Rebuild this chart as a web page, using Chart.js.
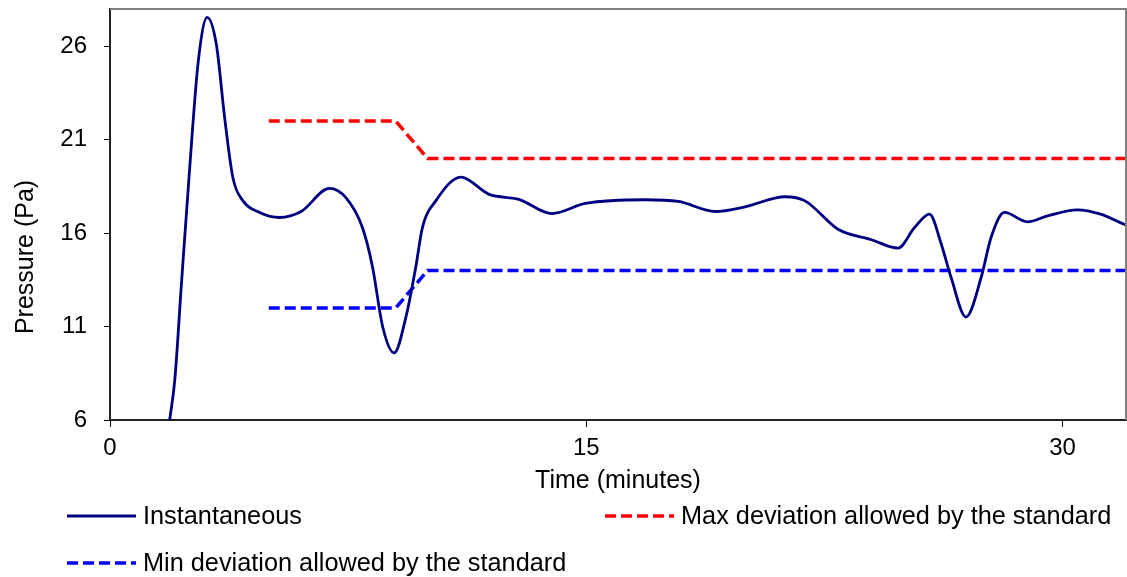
<!DOCTYPE html>
<html>
<head>
<meta charset="utf-8">
<script src="https://cdn.jsdelivr.net/npm/chart.js@4/dist/chart.umd.min.js"></script>
<style>
  html, body { margin: 0; padding: 0; background: #fff; }
  #wrap { width: 1127px; height: 577px; position: relative; }
</style>
</head>
<body>
<div id="wrap"><canvas id="myChart"></canvas></div>
<script>
// time in minutes / pressure in Pa
const instTime = [1.88, 2.04, 2.25, 2.51, 2.78, 3.06, 3.35, 3.61, 3.87, 4.19, 4.71, 5.34, 6.02, 6.91, 7.43, 7.95, 8.27, 8.59, 8.95,
  9.32, 9.63, 9.84, 10.26, 11.05, 11.94, 12.88, 13.92, 14.97, 16.86, 17.9, 19.06, 20.0, 21.26, 21.89, 22.93, 23.98, 24.82,
  25.34, 25.81, 26.18, 26.49, 26.96, 27.44, 27.75, 28.17, 28.9, 29.53, 30.47, 31.2, 31.94, 32]
const instPressure = [6, 8.13, 13.29, 19.5, 25.2, 27.55, 26.1, 22.2, 18.98, 17.73, 17.11, 16.84, 17.16, 18.4, 17.9, 16.3, 14.18, 10.98, 9.59,
  11.51, 14.18, 16.3, 17.73, 19.0, 18.08, 17.81, 17.05, 17.59, 17.79, 17.7, 17.16, 17.41, 17.95, 17.73, 16.21, 15.65, 15.2,
  16.3, 17.02, 15.42, 13.64, 11.51, 13.64, 15.77, 17.11, 16.61, 16.93, 17.25, 17.02, 16.48, 16.45]

const limitTime = [5, 9, 10, 32]
const maxDeviation = [22, 22, 20, 20]
const minDeviation = [12, 12, 14, 14]

const xTicks = [0, 15, 30]
const yTicks = [6, 11, 16, 21, 26]

const labels = ['Instantaneous', 'Max deviation allowed by the standard', 'Min deviation allowed by the standard']
const axisTitles = { x: 'Time (minutes)', y: 'Pressure (Pa)' }

const pts = (xs, ys) => xs.map((x, i) => ({ x: x, y: ys[i] }))
const FONT = '"Liberation Sans", Arial, sans-serif'

// frame, y title and legend drawn by hand
const extras = {
  id: 'extras',
  afterDraw(chart) {
    const { ctx, chartArea: a } = chart
    ctx.save()
    ctx.strokeStyle = '#808080'
    ctx.lineWidth = 2
    ctx.beginPath()
    ctx.moveTo(a.left, a.top)
    ctx.lineTo(a.right, a.top)
    ctx.lineTo(a.right, a.bottom)
    ctx.stroke()

    ctx.fillStyle = '#000'
    ctx.font = '25px ' + FONT
    ctx.textBaseline = 'middle'
    ctx.translate(26, 257)
    ctx.rotate(-Math.PI / 2)
    ctx.textAlign = 'center'
    ctx.fillText(axisTitles.y, 0, 0)
    ctx.restore()

    const spots = [[67, 516], [605, 516], [67, 563]]
    chart.data.datasets.forEach((ds, i) => {
      const [x, y] = spots[i]
      ctx.save()
      ctx.strokeStyle = ds.borderColor
      ctx.lineWidth = ds.borderWidth
      ctx.setLineDash(ds.borderDash || [])
      ctx.beginPath()
      ctx.moveTo(x, y)
      ctx.lineTo(x + 69, y)
      ctx.stroke()
      ctx.fillStyle = '#000'
      ctx.font = '25.3px ' + FONT
      ctx.textBaseline = 'middle'
      ctx.textAlign = 'left'
      ctx.fillText(ds.label, x + 76, y + 1)
      ctx.restore()
    })
  }
}

const ctx = document.getElementById('myChart')
new Chart(ctx, {
  type: 'line',
  data: {
    datasets: [{
      label: labels[0],
      data: pts(instTime, instPressure),
      borderColor: '#000080',
      borderWidth: 2.8,
      cubicInterpolationMode: 'monotone',
      pointRadius: 0
    }, {
      label: labels[1],
      data: pts(limitTime, maxDeviation),
      borderColor: '#ff0000',
      borderWidth: 3.5,
      borderDash: [11, 5],
      pointRadius: 0,
      tension: 0
    }, {
      label: labels[2],
      data: pts(limitTime, minDeviation),
      borderColor: '#0000ff',
      borderWidth: 3.5,
      borderDash: [11, 5],
      pointRadius: 0,
      tension: 0
    }]
  },
  options: {
    responsive: true,
    maintainAspectRatio: false,
    animation: false,
    layout: { padding: { top: 9, right: 1, bottom: 77, left: 0 } },
    plugins: {
      legend: { display: false },
      tooltip: { enabled: false }
    },
    scales: {
      x: {
        type: 'linear',
        min: 0,
        max: 32,
        afterBuildTicks: (s) => { s.ticks = xTicks.map(v => ({ value: v })) },
        afterFit: (s) => { s.height = 80; s.paddingLeft = 0; s.paddingRight = 0 },
        grid: { drawOnChartArea: false, drawTicks: true, tickLength: 7, color: '#000' },
        border: { color: '#222', width: 2 },
        ticks: { color: '#000', font: { family: FONT, size: 24 }, padding: 7, maxRotation: 0 },
        title: { display: true, text: axisTitles.x, color: '#000', font: { family: FONT, size: 25, lineHeight: 1 }, padding: { top: 0, bottom: 6 } }
      },
      y: {
        min: 6,
        max: 28,
        afterBuildTicks: (s) => { s.ticks = yTicks.map(v => ({ value: v })) },
        afterFit: (s) => { s.width = 110; s.paddingTop = 0; s.paddingBottom = 0 },
        grid: { drawOnChartArea: false, drawTicks: true, tickLength: 6, color: '#000' },
        border: { color: '#222', width: 2 },
        ticks: { color: '#000', font: { family: FONT, size: 24 }, padding: 17 }
      }
    }
  },
  plugins: [extras]
})
</script>
</body>
</html>
